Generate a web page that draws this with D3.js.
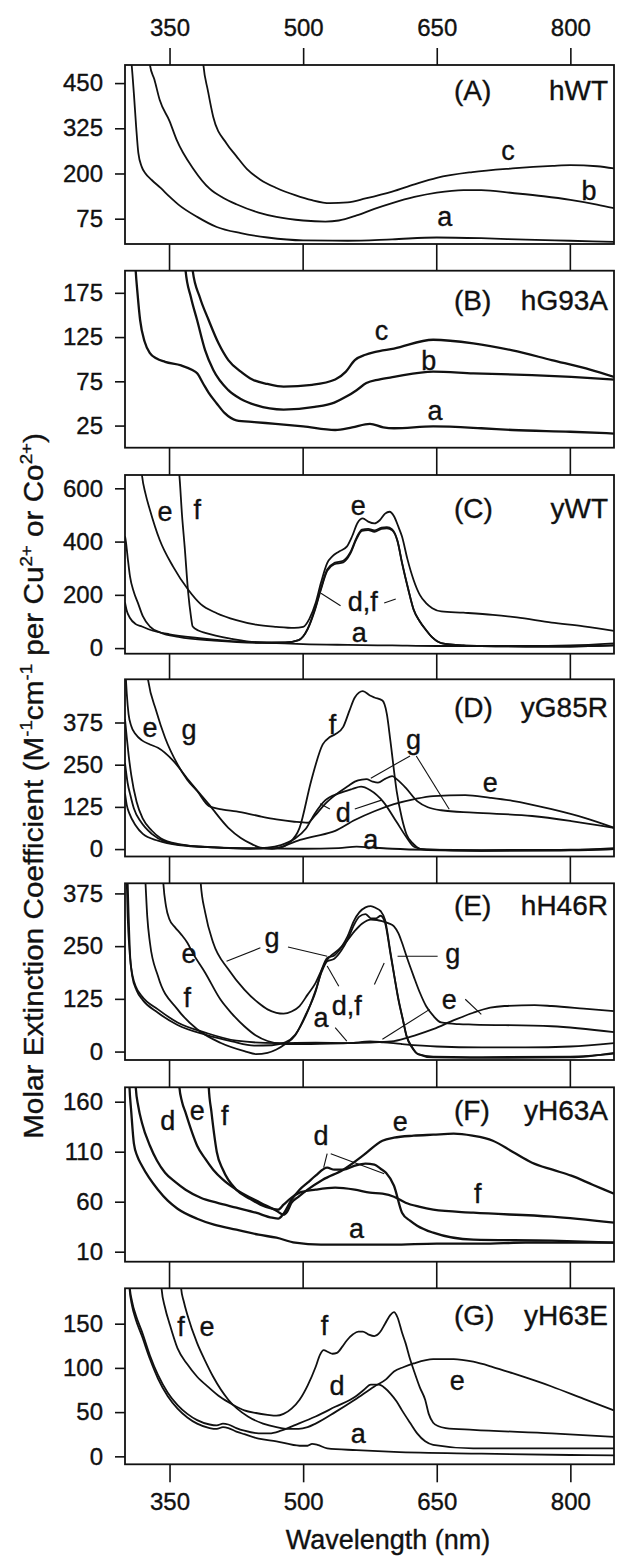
<!DOCTYPE html>
<html>
<head>
<meta charset="utf-8">
<script src="https://cdn.jsdelivr.net/npm/d3@7"></script>
<style>
html, body { margin: 0; padding: 0; background: #fff; }
svg { display: block; font-family: "Liberation Sans", Arial, Helvetica, sans-serif; }
svg text { stroke: #111; stroke-width: 0.35px; }
</style>
</head>
<body>
<svg id="chart" width="618" height="1558"></svg>
<script>
// ---- data: [wavelength nm, extinction] ----
var wavelengthTicks = [350, 500, 650, 800];

// (A) hWT
var hWT_a = [[305,560],[307.5,500],[310,420],[312.5,330],[315,256],[318.7,219],[323,200],[330,182],[340,160],[350,136],[360,114],[381,80],[403,52],[430,35],[460,23],[500,15],[550,14],[600,18],[650,23],[700,21],[750,17],[800,14],[849,11]];
var hWT_b = [[326,560],[328,500],[333,460],[339,403],[350,345],[358,293],[377,212],[395,158],[410,133],[425,115],[450,92],[470,80],[500,70],[525,67],[540,70],[560,84],[580,102],[600,118],[625,135],[650,147],[680,154],[700,154],[735,146],[770,137],[800,127],[830,114],[849,104]];
var hWT_c = [[386,560],[388,500],[393,430],[399,357],[414,283],[425,248],[437,212],[452,183],[470,160],[491,140],[510,126],[530,118],[550,120],[570,131],[600,150],[625,170],[650,188],[690,204],[735,214],[780,221],[800,223],[830,220],[849,214]];

// (B) hG93A
var hG93A_a = [[310,240],[312,200],[314,175],[317,144],[322,120],[328,107],[335,101],[345,97],[363,93],[375,88],[381,84],[388,72],[394,62],[403,50],[412,39],[425,31],[445,29],[469,27],[500,24],[536,20],[555,23],[575,27],[590,23],[602,22],[646,24],[700,22],[735,20],[800,18],[849,16]];
var hG93A_b = [[366,240],[368,200],[374,170],[381,144],[390,110],[399,88],[416,65],[430,55],[447,48],[478,43],[513,46],[535,51],[549,58],[560,65],[571,73],[585,77],[602,80],[646,86],[691,84],[757,82],[801,80],[849,77]];
var hG93A_c = [[374,240],[376,200],[384,170],[394,144],[405,118],[416,99],[430,86],[443,77],[460,72],[478,69],[510,71],[536,77],[548,86],[558,99],[570,105],[580,108],[602,112],[646,122],[691,118],[735,110],[779,99],[823,88],[849,80]];

// (C) yWT
var yWT_a = [[300,172],[302,140],[305.6,113],[312,90],[319,81],[328,69],[350,52],[381,38],[420,26],[470,19],[500,15],[550,12],[600,10],[650,8],[700,8],[750,8],[800,10],[849,18]];
var yWT_d = [[300,420],[301,400],[303,340],[305.6,269],[310,210],[314.6,169],[320,120],[328,81],[340,58],[360,42],[400,28],[450,20],[480,21],[495,30],[505,70],[513,140],[520,220],[527,290],[535,315],[545,322],[553,355],[560,410],[566,440],[573,443],[580,437],[588,448],[594,450],[600,442],[606,400],[611,319],[618,220],[624,144],[631,100],[637.6,69],[645,40],[655,19],[680,10],[700,8],[750,6],[800,6],[849,10]];
var yWT_e = [[317,720],[319,650],[323,580],[328,519],[339,406],[354,306],[371,219],[385,165],[403,131],[425,105],[447,88],[470,80],[490,76],[500,80],[507,110],[514,169],[520,245],[527,319],[533,345],[540,362],[549,381],[555,420],[561,470],[567,487],[573,475],[580,468],[586,480],[592,505],[597,512],[602,495],[607,455],[611,419],[617,335],[624,256],[631,200],[638,169],[645,150],[655,138],[680,133],[713,125],[740,115],[779,96],[815,82],[849,65]];
var yWT_f = [[359,700],[361,650],[364,500],[367,380],[371,206],[374,120],[376,81],[383,65],[390,57],[420,35],[450,22],[480,21],[495,30],[505,72],[513,145],[520,225],[527,295],[535,320],[545,328],[553,360],[560,415],[566,445],[573,448],[580,442],[588,452],[594,454],[600,446],[606,402],[611,322],[618,222],[624,146],[631,100],[637.6,70],[645,40],[655,19],[680,10],[700,8],[750,6],[800,6],[849,10]];

// (D) yG85R
var yG85R_a = [[300,165],[302,130],[305,105],[312,70],[320,45],[337,25],[360,12],[400,5],[450,2],[500,1],[540,3],[560,7],[575,5],[600,1],[640,-2],[700,-3],[800,-2],[849,3]];
var yG85R_d = [[300,385],[302,330],[304,280],[307,220],[313,140],[320,90],[330,55],[340,32],[360,15],[400,5],[440,1],[460,4],[475,12],[490,30],[503,60],[513,105],[525,145],[540,165],[555,178],[565,185],[575,175],[590,140],[605,80],[616,35],[625,6],[640,-3],[700,-5],[800,-3],[849,0]];
var yG85R_e = [[300,560],[302,460],[304,400],[307,365],[312,340],[319,322],[328,310],[337,300],[354,262],[372,202],[394,133],[416,63],[430,33],[443,14],[452,4],[465,1],[480,10],[491,22],[510,36],[536,54],[558,86],[580,112],[602,133],[625,148],[646,157],[682,160],[710,152],[735,143],[779,118],[815,93],[849,63]];
var yG85R_f = [[300,255],[303,195],[306,160],[310,120],[318,80],[330,45],[345,22],[370,10],[400,5],[440,2],[470,3],[485,20],[496,63],[509,202],[522,310],[530,332],[536,340],[545,362],[552,410],[558,449],[567,468],[575,455],[580,449],[589,440],[594,400],[598,320],[605,172],[611,90],[616,44],[624,15],[633,0],[700,-5],[800,-4],[849,0]];
var yG85R_g = [[323,560],[326,500],[335,410],[345,330],[359,251],[370,205],[381,172],[394,128],[410,117],[425,112],[450,98],[470,88],[490,81],[505,78],[513,98],[525,135],[536,160],[550,186],[558,200],[566,206],[571,207],[578,200],[584,197],[592,208],[600,216],[606,205],[615,182],[628,142],[640,124],[655,115],[691,108],[757,98],[801,83],[849,63]];

// (E) hH46R
var hH46R_a = [[302,480],[304,330],[306,220],[309,175],[312,155],[319,131],[337,100],[359,69],[390,45],[425,26],[470,20],[514,21],[550,20],[575,24],[590,22],[610,18],[650,12],[700,10],[750,10],[800,12],[849,20]];
var hH46R_d = [[301,480],[303,320],[305,240],[308,180],[313,145],[320,122],[337,92],[359,63],[390,40],[420,24],[445,14],[465,15],[480,22],[491,40],[503,85],[514,145],[521,190],[527,214],[535,220],[543,240],[550,266],[557,300],[563,320],[570,326],[576,316],[582,316],[587,322],[592,305],[598,232],[603,170],[607,122],[612,75],[616,37],[622,10],[629,-6],[646,-12],[700,-13],[800,-12],[849,-5]];
var hH46R_e = [[341,480],[343,400],[346,345],[350,313],[356,295],[363,278],[370,258],[376,234],[390,187],[407,124],[420,90],[434,60],[447,38],[460,25],[478,18],[500,18],[550,20],[580,22],[602,25],[625,38],[646,53],[670,75],[691,92],[710,104],[726,108],[760,110],[779,108],[815,102],[849,96]];
var hH46R_f = [[321,480],[323,400],[325,320],[328,258],[337,179],[359,100],[381,53],[407,21],[434,1],[447,-6],[460,-3],[470,5],[480,18],[491,38],[503,88],[514,142],[521,195],[527,222],[535,228],[543,248],[550,274],[557,310],[563,330],[570,342],[576,345],[582,340],[587,333],[592,312],[598,236],[603,172],[607,125],[612,76],[616,38],[622,12],[629,-6],[646,-14],[700,-15],[800,-14],[849,-3]];
var hH46R_g = [[383,480],[385,400],[390,330],[399,258],[416,195],[434,147],[450,115],[460,100],[470,92],[478,90],[487,95],[496,108],[505,135],[514,163],[520,190],[527,218],[534,232],[540,242],[549,262],[558,286],[566,303],[576,313],[583,312],[589,309],[596,304],[602,297],[607,280],[611,258],[617,220],[624,179],[631,140],[638,108],[646,85],[655,69],[675,65],[691,64],[779,60],[849,46]];

// (F) yH63A
var yH63A_a = [[303,230],[305,175],[307,150],[310,118],[314,105],[319,96],[327,84],[337,72],[348,61],[359,53],[381,43],[400,37],[425,32],[450,27],[470,24],[491,19],[520,17],[560,17],[600,17],[650,18],[700,18],[750,19],[800,19],[849,19]];
var yH63A_d = [[310,230],[312,175],[315,155],[319,139],[328,116],[336,101],[345,89],[356,80],[368,72],[385,64],[403,59],[425,54],[447,49],[465,44],[472,43],[478,48],[487,62],[496,72],[505,79],[514,86],[527,94],[535,92],[545,92],[558,96],[570,98],[580,97],[587,93],[593,89],[602,76],[611,49],[620,41],[628,36],[646,29],[691,22],[779,21],[849,19]];
var yH63A_e = [[359,230],[361,175],[364,160],[368,149],[375,130],[381,116],[390,103],[399,92],[410,82],[425,72],[452,59],[470,51],[478,47],[482,50],[487,59],[495,65],[505,72],[522,82],[545,92],[567,106],[589,121],[602,124],[624,126],[646,127],[669,128],[690,126],[713,121],[735,110],[757,99],[780,92],[801,86],[825,77],[849,68]];
var yH63A_f = [[392,230],[394,175],[397,150],[400,128],[403,110],[410,92],[425,72],[440,63],[452,57],[465,53],[472,52],[478,57],[487,64],[496,69],[514,72],[536,74],[558,72],[575,69],[589,68],[602,65],[615,59],[630,55],[646,52],[691,49],[779,45],[849,39]];

// (G) yH63E
var yH63E_a = [[303,260],[305,190],[308,170],[312,155],[319,136],[328,110],[337,88],[348,68],[359,54],[370,44],[381,37],[395,32],[403,31],[410,33],[416,32],[425,28],[434,25],[450,20],[470,17],[496,12],[505,12],[510,14],[516,13],[527,9],[560,7],[602,5],[700,3],[800,1.5],[849,1]];
var yH63E_d = [[303,260],[305,195],[308,175],[312,160],[319,141],[328,114],[337,92],[348,72],[359,58],[370,48],[381,41],[395,36],[403,35],[410,37],[416,36],[425,32],[434,29],[450,26],[462,26],[475,29],[490,35],[514,45],[536,56],[558,67],[568,75],[576,81],[585,81],[592,77],[598,71],[605,62],[611,52],[620,38],[628,26],[637,17],[646,13],[691,9],[800,9],[849,9]];
var yH63E_e = [[361,260],[363,190],[366,175],[370,160],[381,128],[390,108],[399,90],[416,64],[438,45],[455,37],[470,33],[484,31],[495,31],[505,33],[514,37],[536,50],[558,64],[580,79],[593,87],[602,96],[613,101],[624,105],[646,110],[669,110],[691,107],[713,101],[735,94],[779,79],[815,65],[849,52]];
var yH63E_f = [[339,260],[341,190],[345,168],[350,150],[359,122],[370,104],[381,90],[394,78],[407,67],[420,59],[434,52],[447,49],[460,47],[470,46],[478,48],[487,54],[496,64],[505,80],[514,101],[519,115],[523,120],[528,118],[533,116],[538,117],[544,124],[549,131],[556,138],[562,141],[567,141],[573,138],[580,136],[586,140],[592,150],[598,160],[602,163],[606,157],[611,140],[615,128],[620,110],[625,95],[631,78],[637,64],[641,48],[646,38],[652,34],[660,32],[691,30],[779,26],[849,22]];

var panelTags = ['(A)', '(B)', '(C)', '(D)', '(E)', '(F)', '(G)'];
var panelNames = ['hWT', 'hG93A', 'yWT', 'yG85R', 'hH46R', 'yH63A', 'yH63E'];
var yDomains = [[5, 500], [0, 200], [-21, 650], [-22, 503], [-20, 399], [0, 174.4], [-9, 190]];
var yTickValues = [[75, 200, 325, 450], [25, 75, 125, 175], [0, 200, 400, 600], [0, 125, 250, 375], [0, 125, 250, 375], [10, 60, 110, 160], [0, 50, 100, 150]];
var panelSeries = [
  [hWT_a, hWT_b, hWT_c],
  [hG93A_a, hG93A_b, hG93A_c],
  [yWT_a, yWT_d, yWT_e, yWT_f],
  [yG85R_a, yG85R_d, yG85R_e, yG85R_f, yG85R_g],
  [hH46R_a, hH46R_d, hH46R_e, hH46R_f, hH46R_g],
  [yH63A_a, yH63A_d, yH63A_e, yH63A_f],
  [yH63E_a, yH63E_d, yH63E_e, yH63E_f]
];

// curve letters [nm, value, text]
var panelLabels = [
  [[730, 259, 'c'], [821, 149, 'b'], [659, 77, 'a']],
  [[588, 131, 'c'], [641, 97, 'b'], [648, 40, 'a']],
  [[345, 507, 'e'], [381, 515, 'f'], [562, 529, 'e'], [567, 171, 'd,f'], [563, 54, 'a']],
  [[328, 355, 'e'], [372, 350, 'g'], [533, 365, 'f'], [624, 320, 'g'], [710, 192, 'e'], [545, 103, 'd'], [576, 24, 'a']],
  [[372, 230, 'e'], [370, 124, 'f'], [465, 266, 'g'], [549, 105, 'd,f'], [520, 77, 'a'], [668, 230, 'g'], [664, 120, 'e']],
  [[348, 140, 'd'], [381, 150, 'e'], [412, 145, 'f'], [520, 125, 'd'], [609, 139, 'e'], [696, 67, 'f'], [560, 32, 'a']],
  [[363, 145, 'f'], [392, 145, 'e'], [524, 146, 'f'], [538, 78, 'd'], [673, 84, 'e'], [562, 24, 'a']]
];

// leader lines [nm1, v1, nm2, v2]
var panelLeaders = [
  [],
  [],
  [[542, 159, 520, 206], [591, 169, 604, 184]],
  [[620, 276, 576, 210], [627, 276, 664, 118], [530, 119, 519, 134], [558, 119, 588, 145]],
  [[452, 246, 414, 214], [483, 248, 527, 226], [540, 155, 527, 203], [580, 159, 591, 210], [651, 226, 606, 226], [682, 124, 700, 88], [642, 100, 589, 29], [536, 57, 549, 25]],
  [[527, 108, 523, 94], [531, 108, 591, 88]],
  []
];

// ---- layout ----
var plotLeft = 125, plotRight = 614;
var panelTop = [65, 270.7, 475, 679.3, 883.3, 1087.3, 1288.3];
var panelBottom = [244, 447.7, 653.7, 856.5, 1060, 1261.7, 1464.3];
var tagBaseline = [100, 310, 518, 717, 915, 1120, 1325];
var noisyPanel = [false, true, false, false, false, true, false];
var ink = '#111';

var svg = d3.select('#chart');
var x = d3.scaleLinear().domain([300, 849]).range([plotLeft, plotRight]);

panelSeries.forEach(function(series, i) {
  var y = d3.scaleLinear().domain(yDomains[i]).range([panelBottom[i], panelTop[i]]);
  var g = svg.append('g').attr('class', 'panel');

  g.append('clipPath').attr('id', 'clip' + i)
    .append('rect')
    .attr('x', plotLeft).attr('y', panelTop[i])
    .attr('width', plotRight - plotLeft).attr('height', panelBottom[i] - panelTop[i]);

  var line = d3.line()
    .x(function(d) { return x(d[0]); })
    .y(function(d) { return y(d[1]); })
    .curve(d3.curveMonotoneX);

  g.append('g').attr('clip-path', 'url(#clip' + i + ')')
    .selectAll('path')
    .data(series)
    .enter().append('path')
    .attr('d', line)
    .attr('fill', 'none')
    .attr('stroke', ink)
    .attr('stroke-width', noisyPanel[i] ? 2.3 : 1.8)
    .attr('stroke-linejoin', 'round');

  g.append('g')
    .selectAll('line')
    .data(panelLeaders[i])
    .enter().append('line')
    .attr('x1', function(d) { return x(d[0]); })
    .attr('y1', function(d) { return y(d[1]); })
    .attr('x2', function(d) { return x(d[2]); })
    .attr('y2', function(d) { return y(d[3]); })
    .attr('stroke', ink)
    .attr('stroke-width', 1.1);

  g.append('g')
    .selectAll('text')
    .data(panelLabels[i])
    .enter().append('text')
    .attr('x', function(d) { return x(d[0]); })
    .attr('y', function(d) { return y(d[1]); })
    .attr('dy', '0.3em')
    .attr('text-anchor', 'middle')
    .attr('font-size', 27)
    .attr('fill', ink)
    .text(function(d) { return d[2]; });

  g.append('rect')
    .attr('x', plotLeft).attr('y', panelTop[i])
    .attr('width', plotRight - plotLeft).attr('height', panelBottom[i] - panelTop[i])
    .attr('fill', 'none')
    .attr('stroke', ink)
    .attr('stroke-width', 1.8);

  var yAxis = g.append('g')
    .attr('transform', 'translate(' + plotLeft + ',0)')
    .call(d3.axisLeft(y).tickValues(yTickValues[i]).tickSize(10).tickPadding(12).tickSizeOuter(0));
  yAxis.select('.domain').remove();
  yAxis.selectAll('line').attr('stroke', ink).attr('stroke-width', 1.6);
  yAxis.selectAll('text').attr('font-size', 24).attr('fill', ink)
    .attr('font-family', '"Liberation Sans", Arial, sans-serif');

  g.append('text')
    .attr('x', 454).attr('y', tagBaseline[i])
    .attr('font-size', 28).attr('fill', ink)
    .text(panelTags[i]);
  g.append('text')
    .attr('x', 608).attr('y', tagBaseline[i])
    .attr('text-anchor', 'end')
    .attr('font-size', 28).attr('fill', ink)
    .text(panelNames[i]);

  // connectors between stacked frames
  if (i < panelSeries.length - 1) {
    g.append('g').selectAll('line')
      .data(wavelengthTicks)
      .enter().append('line')
      .attr('x1', function(d) { return x(d); }).attr('x2', function(d) { return x(d); })
      .attr('y1', panelBottom[i]).attr('y2', panelTop[i + 1])
      .attr('stroke', ink).attr('stroke-width', 1.6);
  }
});

function styleXAxis(sel) {
  sel.select('.domain').remove();
  sel.selectAll('line').attr('stroke', ink).attr('stroke-width', 1.6);
  sel.selectAll('text').attr('font-size', 24).attr('fill', ink)
    .attr('font-family', '"Liberation Sans", Arial, sans-serif');
}

svg.append('g')
  .attr('transform', 'translate(0,' + panelTop[0] + ')')
  .call(d3.axisTop(x).tickValues(wavelengthTicks).tickSize(17).tickPadding(12).tickSizeOuter(0))
  .call(styleXAxis);

svg.append('g')
  .attr('transform', 'translate(0,' + panelBottom[6] + ')')
  .call(d3.axisBottom(x).tickValues(wavelengthTicks).tickSize(18).tickPadding(11).tickSizeOuter(0))
  .call(styleXAxis);

svg.append('text')
  .attr('x', 388).attr('y', 1549)
  .attr('text-anchor', 'middle')
  .attr('font-size', 27).attr('fill', ink)
  .text('Wavelength (nm)');

// rotated y title with superscripts
var yTitleParts = [
  ['Molar Extinction Coefficient (M', false], ['-1', true], ['cm', false], ['-1', true],
  [' per Cu', false], ['2+', true], [' or Co', false], ['2+', true], [')', false]
];
var yt = svg.append('text')
  .attr('transform', 'translate(43,786) rotate(-90) scale(1.1,1)')
  .attr('text-anchor', 'middle')
  .attr('font-size', 27).attr('fill', ink);
var prevSup = false;
yTitleParts.forEach(function(p) {
  var t = yt.append('tspan').text(p[0]);
  if (p[1]) {
    t.attr('font-size', 17).attr('dy', prevSup ? 0 : -11);
  } else if (prevSup) {
    t.attr('dy', 11);
  }
  prevSup = p[1];
});
</script>
</body>
</html>
